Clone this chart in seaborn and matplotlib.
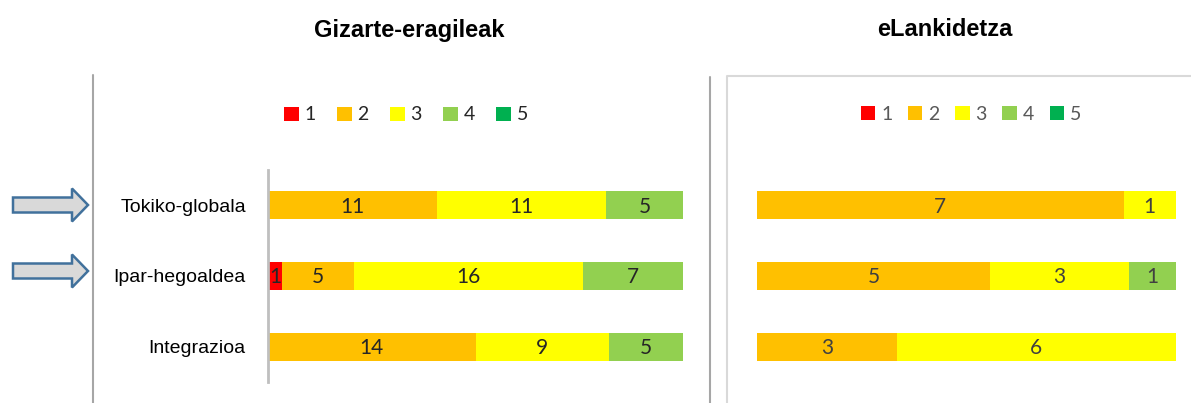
import numpy as np
import pandas as pd
import matplotlib
matplotlib.use("Agg")
import matplotlib.pyplot as plt
import seaborn as sns
from matplotlib.patches import Patch, FancyArrow
from matplotlib.lines import Line2D

# ---- data ----
categories = ["Tokiko-globala", "Ipar-hegoaldea", "Integrazioa"]
levels = ["1", "2", "3", "4", "5"]
level_colors = ["#FF0000", "#FFC000", "#FFFF00", "#92D050", "#00B050"]

# counts per level (1..5) for each category
gizarte_counts = [
    [0, 11, 11, 5, 0],
    [1, 5, 16, 7, 0],
    [0, 14, 9, 5, 0],
]
elank_counts = [
    [0, 7, 1, 0, 0],
    [0, 5, 3, 1, 0],
    [0, 3, 6, 0, 0],
]

panel_titles = ["Gizarte-eragileak", "eLankidetza"]
arrow_rows = ["Tokiko-globala", "Ipar-hegoaldea"]

SANS = ["Liberation Sans", "DejaVu Sans"]
NUM = ["Lato", "DejaVu Sans"]


def _long(counts):
    """100% stacked layout: cumulative percentage per level."""
    rows = []
    for cat, vals in zip(categories, counts):
        vals = np.asarray(vals, dtype=float)
        pct = vals / vals.sum() * 100
        cum = np.cumsum(pct)
        for i, lev in enumerate(levels):
            rows.append({"cat": cat, "level": lev, "value": vals[i],
                         "pct": pct[i], "cum": cum[i]})
    return pd.DataFrame(rows)


def draw_panel(ax, counts, label_color, show_ticks):
    d = _long(counts)
    # draw cumulative bars from the top level down so they overlay into stacks
    for lev, col in reversed(list(zip(levels, level_colors))):
        sub = d[d["level"] == lev]
        sns.barplot(data=sub, x="cum", y="cat", order=categories,
                    color=col, orient="h", width=0.4, linewidth=0,
                    saturation=1, ax=ax)
    for _, r in d.iterrows():
        if r["value"] > 0:
            ax.text(r["cum"] - r["pct"] / 2, categories.index(r["cat"]) + 0.02,
                    f"{int(r['value'])}", ha="center", va="center",
                    fontsize=15, color=label_color, family=NUM)
    ax.set_xlim(0, 100)
    ax.set_ylim(2.5, -0.5)
    ax.set_xlabel("")
    ax.set_ylabel("")
    ax.set_xticks([])
    for s in ["top", "right", "bottom"]:
        ax.spines[s].set_visible(False)
    if show_ticks:
        ax.spines["left"].set_color("#bfbfbf")
        ax.spines["left"].set_linewidth(2)
        ax.tick_params(axis="y", length=0, pad=16)
        for t in ax.get_yticklabels():
            t.set_fontfamily(SANS)
            t.set_fontsize(14)
            t.set_color("#000000")
    else:
        ax.spines["left"].set_visible(False)
        ax.set_yticks([])


sns.set_style("white")
W, H = 1191, 403
fig = plt.figure(figsize=(W / 100, H / 100), dpi=100)


def fx(px):
    return px / W


def fy(py):
    return 1 - py / H


ax1 = fig.add_axes([fx(268), fy(382), fx(683) - fx(268), fy(170) - fy(382)])
ax2 = fig.add_axes([fx(757), fy(382), fx(1176) - fx(757), fy(170) - fy(382)])
draw_panel(ax1, gizarte_counts, "#262626", True)
draw_panel(ax2, elank_counts, "#404040", False)

# titles
fig.text(fx(409), fy(30), panel_titles[0], ha="center", va="center",
         fontsize=17, fontweight="bold", family=SANS, color="#000000")
fig.text(fx(945), fy(30), panel_titles[1], ha="center", va="center",
         fontsize=17, fontweight="bold", family=SANS, color="#000000")

# legends
handles = [Patch(facecolor=c, edgecolor="none") for c in level_colors]
for cx, cy, tc, sp in [(406, 115, "#262626", 1.1), (971, 114, "#595959", 0.8)]:
    fig.legend(handles, levels, loc="center", bbox_to_anchor=(fx(cx), fy(cy)),
               ncol=5, frameon=False, handlelength=0.75, handleheight=0.75,
               handletextpad=0.3, columnspacing=sp,
               prop={"family": NUM, "size": 14}, labelcolor=tc)

# divider lines and right frame
fig.add_artist(Line2D([fx(93), fx(93)], [fy(75), 0], color="#a6a6a6", lw=1.5))
fig.add_artist(Line2D([fx(710), fx(710)], [fy(77), 0], color="#a6a6a6", lw=1.5))
fig.add_artist(Line2D([fx(727), fx(727), 1], [0, fy(76), fy(76)],
                      color="#d9d9d9", lw=1.5))

# block arrows pointing to highlighted rows
for lab, yc in zip(arrow_rows, [205, 271]):
    fig.add_artist(FancyArrow(fx(13), fy(yc), fx(88) - fx(13), 0,
                              width=15 / H, head_width=33 / H,
                              head_length=16 / W, length_includes_head=True,
                              facecolor="#d9d9d9", edgecolor="#41719c",
                              linewidth=1.8, transform=fig.transFigure))

fig.savefig("out.png", dpi=100)
